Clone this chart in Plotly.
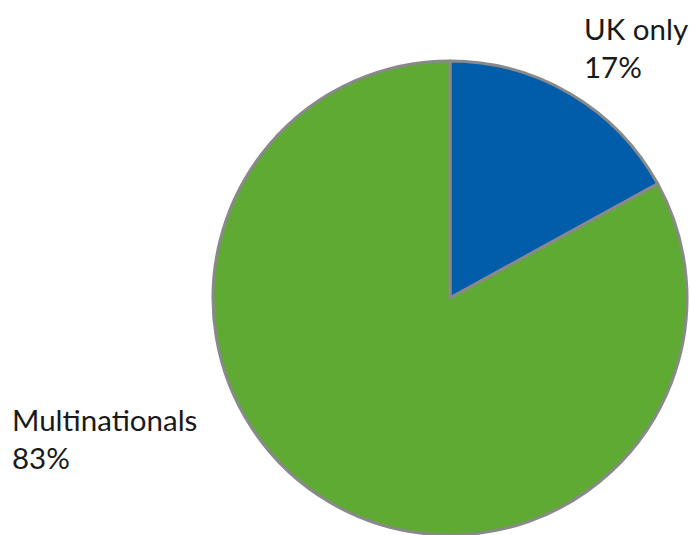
import plotly.graph_objects as go

# Share of companies by ownership
labels = ["UK only", "Multinationals"]
values = [17, 83]
colors = ["#015DA9", "#5EAA33"]

W, H = 690, 535

fig = go.Figure(
    go.Pie(
        labels=labels,
        values=values,
        sort=False,
        direction="clockwise",
        rotation=0,
        marker=dict(colors=colors, line=dict(color="#898989", width=3)),
        textinfo="none",
        hoverinfo="label+percent",
        domain=dict(x=[213 / W, 687 / W], y=[0.0, 474 / H]),
        showlegend=False,
    )
)

# Outside category labels with their percentages
label_pos = {"UK only": (582, 9), "Multinationals": (10, 400)}
total = sum(values)
annotations = []
for lab, val in zip(labels, values):
    px, py = label_pos[lab]
    annotations.append(
        dict(
            text=f"{lab}<br>{round(100 * val / total)}%",
            x=px / W,
            y=1 - py / H,
            xref="paper",
            yref="paper",
            xanchor="left",
            yanchor="top",
            align="left",
            showarrow=False,
            font=dict(family="Lato", size=29.5, color="#1a1a1a"),
        )
    )

fig.update_layout(
    width=W,
    height=H,
    margin=dict(l=0, r=0, t=0, b=0),
    paper_bgcolor="white",
    plot_bgcolor="white",
    annotations=annotations,
)

fig.write_html("out.html")
